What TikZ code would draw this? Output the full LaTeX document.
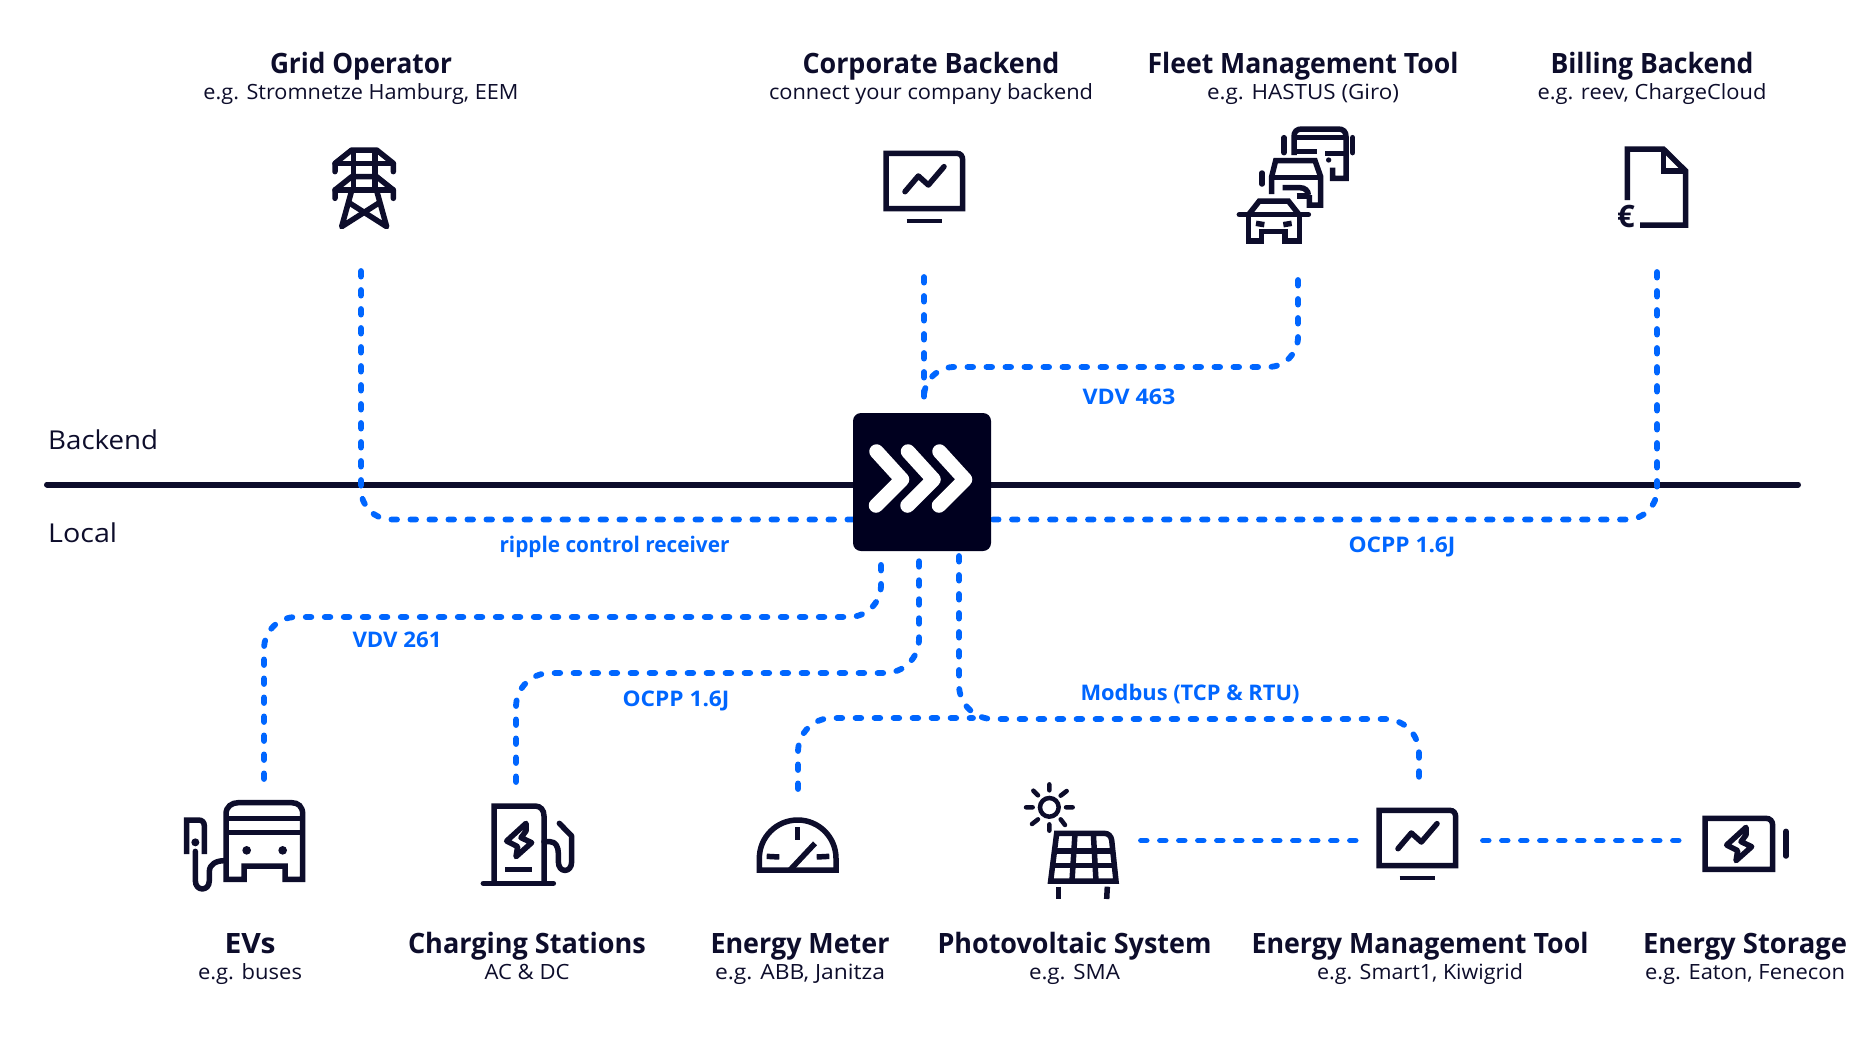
\documentclass[tikz,border=0pt]{standalone}
\usepackage{graphicx}
\usepackage{fontspec}
\setmainfont{Open Sans}
\definecolor{ink}{HTML}{0D0D2B}
\definecolor{hubcol}{HTML}{00001F}
\definecolor{wirecol}{HTML}{0066FF}
\newcommand\fitw[2]{\resizebox{#1pt}{\height}{#2}}
\newcommand\ttl[2]{\fontsize{28pt}{30pt}\selectfont\bfseries\fitw{#1}{#2}}
\newcommand\sbt[2]{\fontsize{21pt}{23pt}\selectfont\fitw{#1}{#2}}
\newcommand\tag[2]{\fontsize{21.5pt}{23pt}\selectfont\bfseries\fitw{#1}{#2}}
\newcommand\boltshape{(168,82) -- (110,135) -- (143,152) -- (138,182) -- (185,140) -- (153,125) -- (168,105) -- cycle}
\tikzset{
  lbl/.style={anchor=base,inner sep=0pt,text=ink},
  wlbl/.style={anchor=base,inner sep=0pt,text=wirecol},
  wire/.style={draw=wirecol,line width=5.8pt,line cap=round,dash pattern=on 5.6pt off 13.4pt,rounded corners=30pt},
  ico/.style={draw=ink,line width=5.5pt,line join=miter,line cap=butt},
  icor/.style={draw=ink,line width=5.5pt,line join=round,line cap=round},
  zoomed/.style={x=0.33333pt,y=-0.33333pt},
}
\begin{document}
\begin{tikzpicture}[x=1pt,y=-1pt]
\useasboundingbox (0,0) rectangle (1874,1042);
\fill[white] (0,0) rectangle (1874,1042);

% coordinates
\coordinate (axisL) at (47,484.5);
\coordinate (axisR) at (1798,484.5);
\coordinate (gridEnd) at (361,271);
\coordinate (corpEnd) at (924,277);
\coordinate (fleetEnd) at (1298,280);
\coordinate (billEnd) at (1657,272);
\coordinate (evEnd) at (264,779);
\coordinate (csEnd) at (516,782);
\coordinate (meterEnd) at (798,789);
\coordinate (emtEnd) at (1419,785);
\coordinate (pvEnd) at (1141,840.5);
\coordinate (emtL) at (1359,840.5);
\coordinate (emtR) at (1483,840.5);
\coordinate (storEnd) at (1680,840.5);
\coordinate (mbJoin) at (973,718);

% axis
\draw[ink,line width=6pt,line cap=round] (axisL) -- (axisR);

% wires
\draw[wire] (gridEnd) -- (361,519.5) -- (860,519.5);
\draw[wire] (billEnd) -- (1657,519.5) -- (985,519.5);
\draw[wire] (corpEnd) -- (924,403);
\draw[wire] (fleetEnd) -- (1298,367) -- (924,367) -- (924,403);
\draw[wire,rounded corners=32pt] (evEnd) -- (264,617) -- (881,617) -- (881,552);
\draw[wire,rounded corners=34pt] (csEnd) -- (516,673) -- (919,673) -- (919,552);
\draw[wire,rounded corners=34pt] (959,556) -- (959,719) -- (1419,719) -- (emtEnd);
\draw[wire,rounded corners=34pt] (meterEnd) -- (798,718) -- (mbJoin);
\draw[wire] (pvEnd) -- (emtL);
\draw[wire] (emtR) -- (storEnd);

% hub
\node[draw=none,fill=hubcol,rounded corners=8pt,minimum width=138pt,minimum height=138pt,inner sep=0pt] (hub) at (922,482) {};
\foreach \dx in {0,31.5,63}{
  \draw[white,line width=14.5pt,line cap=round,line join=round,xshift=\dx pt] (876.5,451.5) -- (902,479.5) -- (876,505.5);
}

% axis labels
\node[lbl,anchor=base west] (backendLbl) at (48,449) {\fontsize{26pt}{28pt}\selectfont\fitw{110}{Backend}};
\node[lbl,anchor=base west] (localLbl) at (48,542) {\fontsize{26pt}{28pt}\selectfont\fitw{69}{Local}};

% top labels
\node[lbl] (gridT) at (361,73) {\ttl{182}{Grid Operator}};
\node[lbl] (gridS) at (361,99) {\sbt{315}{e.g. Stromnetze Hamburg, EEM}};
\node[lbl] (corpT) at (931,73) {\ttl{257}{Corporate Backend}};
\node[lbl] (corpS) at (931,99) {\sbt{324}{connect your company backend}};
\node[lbl] (fleetT) at (1303,73) {\ttl{311}{Fleet Management Tool}};
\node[lbl] (fleetS) at (1303,99) {\sbt{192}{e.g. HASTUS (Giro)}};
\node[lbl] (billT) at (1652,73) {\ttl{203}{Billing Backend}};
\node[lbl] (billS) at (1652,99) {\sbt{229}{e.g. reev, ChargeCloud}};

% bottom labels
\node[lbl] (evT) at (250,953) {\ttl{51}{EVs}};
\node[lbl] (evS) at (250,979) {\sbt{104}{e.g. buses}};
\node[lbl] (csT) at (527,953) {\ttl{238}{Charging Stations}};
\node[lbl] (csS) at (527,979) {\sbt{85}{AC \& DC}};
\node[lbl] (meterT) at (800,953) {\ttl{179}{Energy Meter}};
\node[lbl] (meterS) at (800,979) {\sbt{170}{e.g. ABB, Janitza}};
\node[lbl] (pvT) at (1074.5,953) {\ttl{274}{Photovoltaic System}};
\node[lbl] (pvS) at (1074.5,979) {\sbt{91}{e.g. SMA}};
\node[lbl] (emtT) at (1420,953) {\ttl{337}{Energy Management Tool}};
\node[lbl] (emtS) at (1420,979) {\sbt{206}{e.g. Smart1, Kiwigrid}};
\node[lbl] (storT) at (1745,953) {\ttl{204}{Energy Storage}};
\node[lbl] (storS) at (1745,979) {\sbt{200}{e.g. Eaton, Fenecon}};

% connector labels
\node[wlbl] (w1) at (1129,404) {\tag{93}{VDV 463}};
\node[wlbl] (w2) at (614.5,552) {\tag{230}{ripple control receiver}};
\node[wlbl] (w3) at (1402,552) {\tag{107}{OCPP 1.6J}};
\node[wlbl] (w4) at (397,647) {\tag{89}{VDV 261}};
\node[wlbl] (w5) at (676,706) {\tag{107}{OCPP 1.6J}};
\node[wlbl] (w6) at (1190,700) {\tag{219}{Modbus (TCP \& RTU)}};

% tower
\begin{scope}[shift={(300,130)},zoomed]
\draw[icor] (105,125) -- (105,100) -- (155,60) -- (230,60) -- (280,100) -- (280,125);
\draw[icor] (105,100) -- (280,100);
\draw[icor] (105,205) -- (105,180) -- (155,140) -- (230,140) -- (280,180) -- (280,205);
\draw[icor] (105,180) -- (280,180);
\draw[ico] (160,60) -- (160,180);
\draw[ico] (225,60) -- (225,180);
\draw[icor] (155,182) -- (125,290) -- (238,218);
\draw[icor] (230,182) -- (260,290) -- (147,218);
\end{scope}

% monitors
\begin{scope}[shift={(860,130)},zoomed]
\draw[ico] (78,70) -- (290,70) .. controls (302,70) and (308,78) .. (308,90) -- (308,236) -- (78,236) -- cycle;
\draw[icor] (135,185) -- (175,138) -- (205,165) -- (252,110);
\draw[ico,line width=4.5pt] (140,273) -- (246,273);
\end{scope}
\begin{scope}[shift={(1353,787)},zoomed]
\draw[ico] (78,70) -- (290,70) .. controls (302,70) and (308,78) .. (308,90) -- (308,236) -- (78,236) -- cycle;
\draw[icor] (135,185) -- (175,138) -- (205,165) -- (252,110);
\draw[ico,line width=4.5pt] (140,273) -- (246,273);
\end{scope}

% fleet
\begin{scope}[shift={(1220,115)},zoomed]
\draw[ico] (222,120) -- (222,65) .. controls (222,50) and (230,42) .. (245,42) -- (355,42) .. controls (370,42) and (378,50) .. (378,65) -- (378,190) -- (338,190) -- (338,158);
\draw[ico] (222,68) -- (378,68);
\draw[ico] (222,110) -- (290,110);
\draw[ico] (315,115) -- (378,115);
\fill[ink] (326,135) circle (8);
\draw[icor] (192,68) -- (192,113);
\draw[icor] (398,68) -- (398,113);
\draw[ico] (155,237) -- (155,185) -- (167,137) -- (285,137) -- (302,185) -- (302,270) -- (268,270) -- (268,240);
\draw[ico] (155,188) -- (302,188);
\draw[ico] (188,218) -- (240,218) .. controls (255,218) and (265,228) .. (265,240);
\draw[ico] (230,243) -- (265,243);
\draw[icor] (126,174) -- (126,207);
\draw[ico] (85,300) -- (118,258) -- (205,258) -- (238,300);
\draw[icor] (58,299) -- (265,299);
\draw[ico] (85,299) -- (85,378) -- (125,378) -- (125,350) -- (195,350) -- (195,378) -- (238,378) -- (238,299);
\draw[ico] (108,325) -- (133,329);
\draw[ico] (190,329) -- (215,325);
\end{scope}

% billing document
\begin{scope}[shift={(1600,135)},zoomed]
\draw[ico] (82,195) -- (82,42) -- (190,42) -- (257,108) -- (257,270) -- (120,270);
\draw[ico] (190,42) -- (190,108) -- (257,108);
\end{scope}
\node[inner sep=0pt,text=ink] (euro) at (1626,216) {\fontsize{31pt}{32pt}\selectfont\bfseries €};

% EV
\begin{scope}[shift={(170,790)},zoomed]
\draw[ico] (168,268) -- (168,72) .. controls (168,50) and (185,38) .. (205,38) -- (365,38) .. controls (385,38) and (398,50) .. (398,72) -- (398,268) -- (345,268) -- (345,228) -- (222,228) -- (222,268) -- cycle;
\draw[ico] (168,85) -- (398,85);
\draw[ico] (168,128) -- (398,128);
\fill[ink] (230,181) circle (13) (338,181) circle (13);
\draw[ico] (50,192) -- (50,90) -- (85,90) .. controls (97,90) and (103,97) .. (103,108) -- (103,192);
\fill[ink] (76,157) circle (12);
\draw[icor] (76,184) -- (76,272) .. controls (76,305) and (118,305) .. (118,272) -- (118,245) .. controls (118,222) and (140,212) .. (163,212);
\end{scope}

% charging station
\begin{scope}[shift={(470,790)},zoomed]
\draw[icor] (40,280) -- (250,280);
\draw[ico] (72,280) -- (72,48) -- (195,48) .. controls (212,48) and (222,60) .. (222,78) -- (222,280);
\draw[icor] (222,155) -- (240,155) .. controls (258,155) and (265,172) .. (265,190) -- (265,215) .. controls (265,250) and (305,250) .. (305,215) -- (305,138) -- (268,100);
\begin{scope}[shift={(0,18)}]
\draw[icor] \boltshape;
\end{scope}
\draw[ico,line width=4.5pt] (106,238) -- (186,238);
\end{scope}

% meter
\begin{scope}[shift={(740,800)},zoomed]
\draw[ico] (58,210) -- (58,175) arc[start angle=180,end angle=360,radius=115] -- (288,210) -- cycle;
\draw[ico] (173,82) -- (173,120);
\draw[ico] (80,169) -- (118,171);
\draw[ico] (230,171) -- (268,169);
\draw[ico] (150,210) -- (225,130);
\end{scope}

% photovoltaic
\begin{scope}[shift={(1010,775)},zoomed]
\draw[ico,line width=4.5pt] (118,97) circle (28);
\draw[icor,line width=4.5pt] (118,28) -- (118,46) (118,148) -- (118,167) (48,97) -- (68,97) (168,97) -- (188,97)
  (70,47) -- (84,61) (170,48) -- (152,62) (66,147) -- (84,133) (165,150) -- (152,133);
\draw[ico] (122,318) -- (140,175) -- (283,175) .. controls (295,175) and (303,183) .. (305,195) -- (318,318) -- cycle;
\draw[ico] (135,228) -- (310,228);
\draw[ico] (128,272) -- (314,272);
\draw[ico] (195,175) -- (186,318);
\draw[ico] (250,175) -- (258,318);
\draw[ico] (145,335) -- (145,372);
\draw[ico] (292,335) -- (290,372);
\end{scope}

% battery
\begin{scope}[shift={(1690,800)},zoomed]
\draw[ico] (45,55) -- (228,55) .. controls (240,55) and (248,63) .. (248,76) -- (248,208) -- (45,208) -- cycle;
\draw[icor] (288,94) -- (288,168);
\draw[icor] \boltshape;
\end{scope}
\end{tikzpicture}
\end{document}
